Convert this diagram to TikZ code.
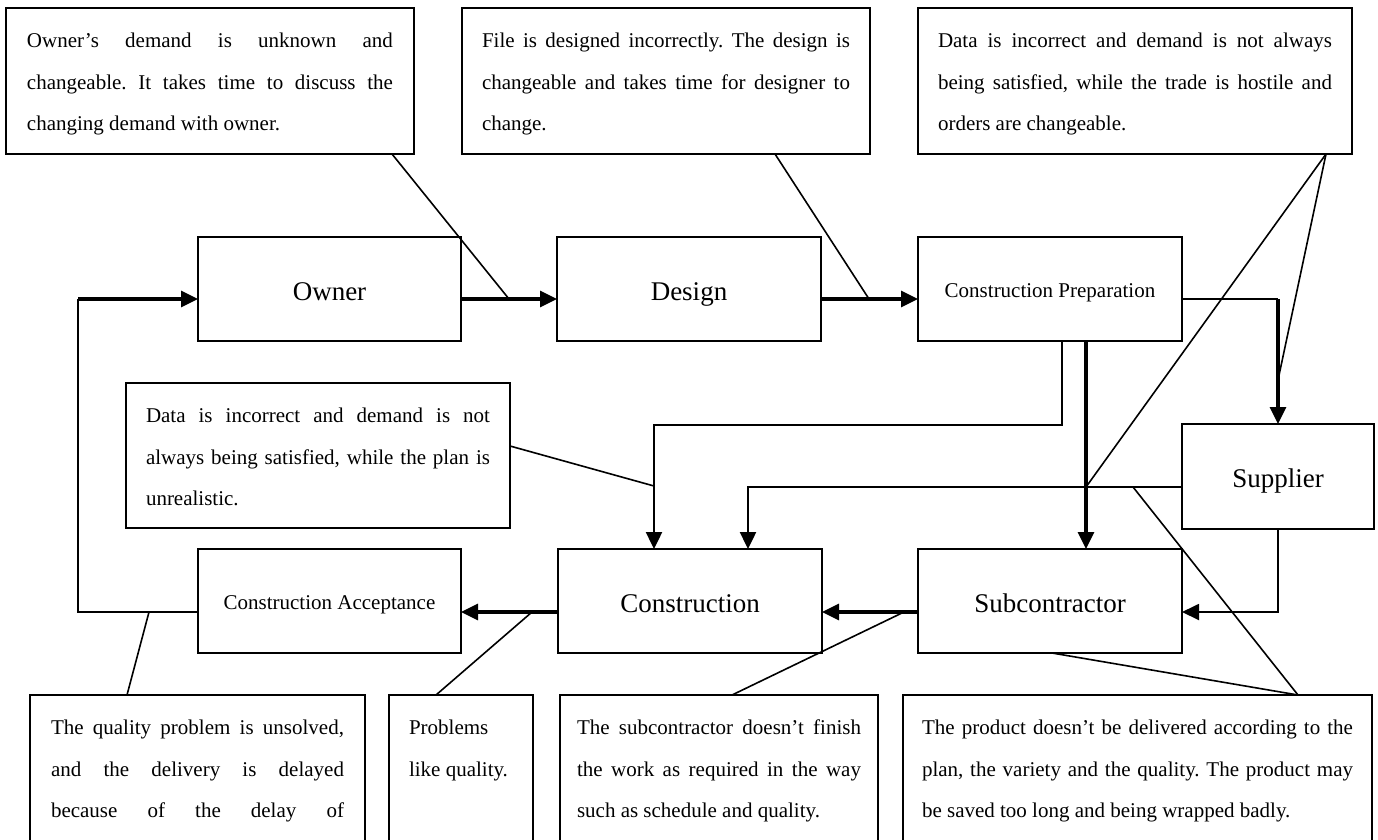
\documentclass[tikz,border=0pt]{standalone}
\usepackage{fontspec}
\setmainfont{Liberation Serif}
\usetikzlibrary{arrows.meta,calc}
\frenchspacing
\newcommand{\jline}[1]{\makebox[\linewidth][s]{#1}}
\newcommand{\cpar}[3]{\parbox[t][#1][t]{#2}{\frenchspacing\fontsize{21}{41.5}\selectfont\rule{0pt}{39.5pt}#3}}
\tikzset{
  blk/.style={draw, line width=1.6pt, inner sep=0pt, outer sep=0pt, minimum height=104pt,
    font=\fontsize{27}{32}\selectfont, text height=25pt, text depth=3pt},
  blksmall/.style={blk, font=\fontsize{21}{25}\selectfont, text height=19pt, text depth=3pt},
  callout/.style={draw, line width=1.6pt, inner ysep=0pt, outer sep=0pt, anchor=north west},
  thk/.style={line width=3.2pt, -{Triangle[length=17pt,width=16pt]}},
  mid/.style={line width=2.4pt, -{Triangle[length=17pt,width=16pt]}},
  thn/.style={line width=1.6pt},
  thnarr/.style={line width=1.9pt, -{Triangle[length=17pt,width=16pt]}}
}
\begin{document}
\begin{tikzpicture}[x=1pt,y=-1pt]
\clip (0,0) rectangle (1378,839);
\fill[white] (0,0) rectangle (1378,839);

% main blocks
\node[blk, minimum width=263pt] (owner) at (329.5,289) {Owner};
\node[blk, minimum width=264pt] (design) at (689,289) {Design};
\node[blksmall, minimum width=264pt] (prep) at (1050,289) {Construction Preparation};
\node[blk, minimum width=192pt, minimum height=105pt] (supplier) at (1278,476.5) {Supplier};
\node[blk, minimum width=264pt] (sub) at (1050,601) {Subcontractor};
\node[blk, minimum width=264pt] (constr) at (690,601) {Construction};
\node[blksmall, minimum width=263pt] (accept) at (329.5,601) {Construction Acceptance};

% callouts
\node[callout, inner xsep=21pt] (c1) at (6,8) {\cpar{146pt}{366pt}{%
\jline{Owner’s demand is unknown and}\\
\jline{changeable. It takes time to discuss the}\\
changing demand with owner.}};
\node[callout, inner xsep=20pt] (c2) at (462,8) {\cpar{146pt}{368pt}{%
\jline{File is designed incorrectly. The design is}\\
\jline{changeable and takes time for designer to}\\
change.}};
\node[callout, inner xsep=20pt] (c3) at (918,8) {\cpar{146pt}{394pt}{%
\jline{Data is incorrect and demand is not always}\\
\jline{being satisfied, while the trade is hostile and}\\
orders are changeable.}};
\node[callout, inner xsep=20pt] (c4) at (126,383) {\cpar{145pt}{344pt}{%
\jline{Data is incorrect and demand is not}\\
\jline{always being satisfied, while the plan is}\\
unrealistic.}};
\node[callout, inner xsep=21pt] (c5) at (30,695) {\cpar{200pt}{293pt}{%
\jline{The quality problem is unsolved,}\\
\jline{and the delivery is delayed}\\
\jline{because of the delay of}}};
\node[callout, inner xsep=20pt] (c6) at (389,695) {\cpar{200pt}{104pt}{%
Problems\\
like quality.}};
\node[callout, inner xsep=17pt] (c7) at (560,695) {\cpar{200pt}{284pt}{%
\jline{The subcontractor doesn’t finish}\\
\jline{the work as required in the way}\\
such as schedule and quality.}};
\node[callout, inner xsep=19pt] (c8) at (903,695) {\cpar{200pt}{431pt}{%
\jline{The product doesn’t be delivered according to the}\\
\jline{plan, the variety and the quality. The product may}\\
be saved too long and being wrapped badly.}};

% helper coordinates
\coordinate (k1) at (1278,299);
\coordinate (k2) at (654,425);
\coordinate (k4) at (78,299);
\coordinate (q1) at (509,299);
\coordinate (q2) at (869,299);
\coordinate (q3a) at (1086,487);
\coordinate (q3b) at (1278,380);
\coordinate (q4) at (654,486);
\coordinate (q5) at (149,612);
\coordinate (q6) at (532,612);
\coordinate (q7) at (904,612);
\coordinate (q8a) at (1133,487);

% flow connectors
\draw[thk] ([yshift=-10pt]owner.east) -- ([yshift=-10pt]design.west);
\draw[thk] ([yshift=-10pt]design.east) -- ([yshift=-10pt]prep.west);
\draw[thn] ([yshift=-10pt]prep.east) -- (k1);
\draw[thk] (k1) -- (supplier.north);
\draw[thk] ([xshift=36pt]prep.south) -- ([xshift=36pt]sub.north);
\draw[mid] ([xshift=12pt]prep.south) |- (k2) -- (k2 |- constr.north);
\draw[mid] ([yshift=-10.5pt]supplier.west) -| ([xshift=58pt]constr.north);
\draw[thnarr] (supplier.south) |- ([yshift=-11pt]sub.east);
\draw[thk] ([yshift=-11pt]sub.west) -- ([yshift=-11pt]constr.east);
\draw[thk] ([yshift=-11pt]constr.west) -- ([yshift=-11pt]accept.east);
\draw[thn] ([yshift=-11pt]accept.west) -| (k4);
\draw[thk] (k4) -- ([yshift=-10pt]owner.west);

% callout lines
\draw[thn] ([xshift=182pt]c1.south) -- (q1);
\draw[thn] ([xshift=109pt]c2.south) -- (q2);
\draw[thn] ([xshift=191pt]c3.south) -- (q3a);
\draw[thn] ([xshift=191pt]c3.south) -- (q3b);
\draw[thn] ([yshift=9.5pt]c4.east) -- (q4);
\draw[thn] ([xshift=-70.5pt]c5.north) -- (q5);
\draw[thn] ([xshift=-25pt]c6.north) -- (q6);
\draw[thn] ([xshift=13pt]c7.north) -- (q7);
\draw[thn] ([xshift=160.5pt]c8.north) -- (q8a);
\draw[thn] ([xshift=160.5pt]c8.north) -- ([xshift=2pt]sub.south);
\end{tikzpicture}
\end{document}
